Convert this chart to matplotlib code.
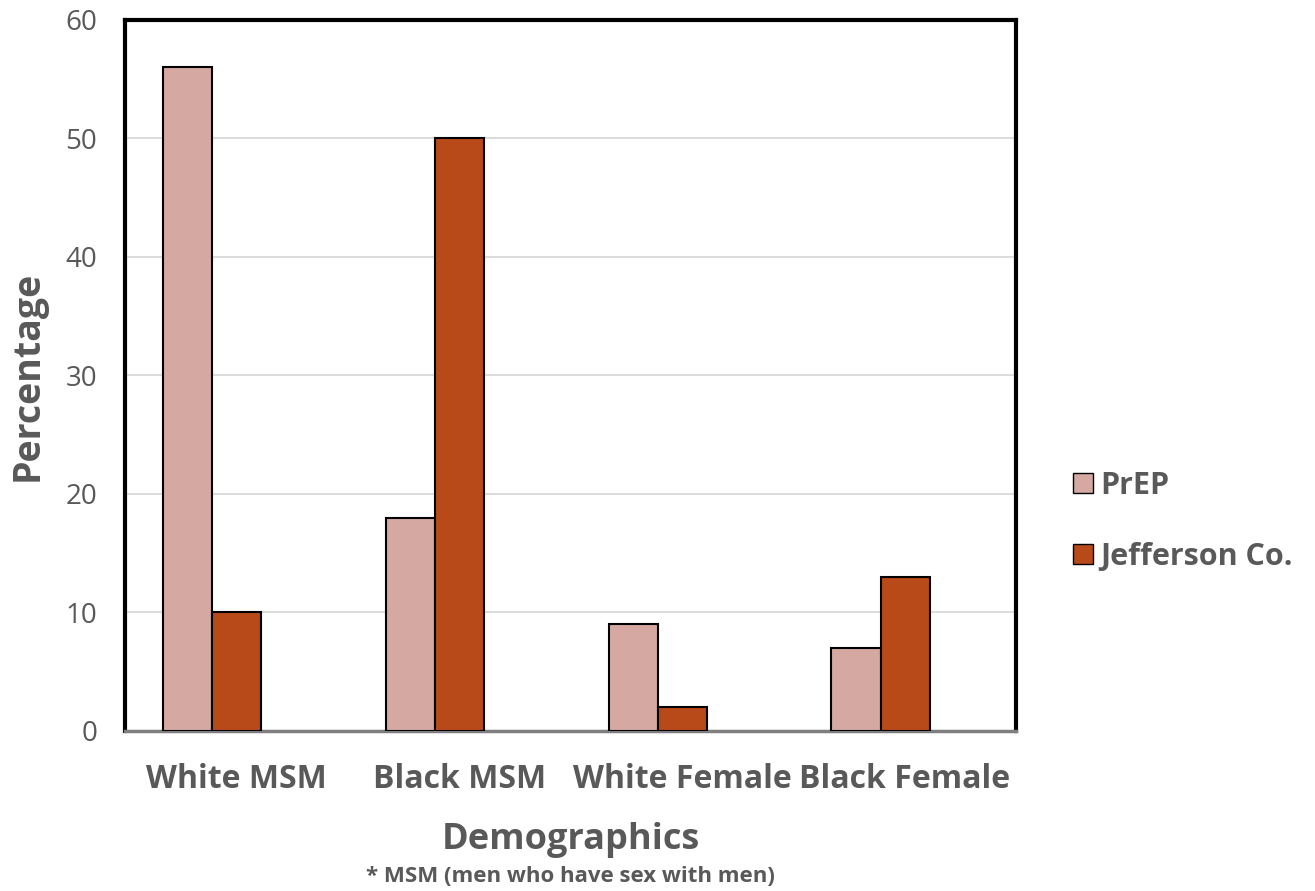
import numpy as np
import matplotlib.pyplot as plt
from matplotlib.patches import Patch

plt.rcParams['font.family'] = ['Open Sans', 'DejaVu Sans']

# datos
categorias = ['White MSM', 'Black MSM', 'White Female', 'Black Female']
prep = [56, 18, 9, 7]
jefferson = [10, 50, 2, 13]
ticks_y = [0, 10, 20, 30, 40, 50, 60]

gris = '#595959'
c_prep = '#d5a8a2'
c_jeff = '#b84a1a'

fig = plt.figure(figsize=(13.15, 8.91), dpi=100)
ax = fig.add_axes([0.095, 0.1796, 0.678, 0.798])

x = np.arange(len(categorias))
ancho = 0.22
ax.bar(x - ancho, prep, ancho, color=c_prep, edgecolor='black', linewidth=1.5, zorder=3)
ax.bar(x, jefferson, ancho, color=c_jeff, edgecolor='black', linewidth=1.5, zorder=3)

ax.set_xlim(-0.5, 3.5)
ax.set_ylim(0, 60)
ax.set_yticks(ticks_y)
ax.set_yticklabels([str(t) for t in ticks_y], fontsize=20, color=gris)
ax.set_xticks(x)
ax.set_xticklabels(categorias, fontsize=23, fontweight='bold', color=gris)
ax.tick_params(axis='both', length=0)
ax.tick_params(axis='y', pad=20)
ax.tick_params(axis='x', pad=23)
ax.yaxis.grid(True, color='#d9d9d9', linewidth=1.3, zorder=0)

for lado in ['left', 'top', 'right']:
    ax.spines[lado].set_linewidth(3)
    ax.spines[lado].set_color('black')
ax.spines['bottom'].set_linewidth(2.5)
ax.spines['bottom'].set_color('#7f7f7f')

ax.set_ylabel('Percentage', fontsize=27, fontweight='bold', color=gris)
ax.yaxis.set_label_coords(-0.088, 0.5)
ax.set_xlabel('Demographics', fontsize=26, fontweight='bold', color=gris, labelpad=19)

fig.text(0.434, 0.01, '* MSM (men who have sex with men)', fontsize=16,
         fontweight='bold', color=gris, ha='center')

leyenda = [Patch(facecolor=c_prep, edgecolor='black', label='PrEP'),
           Patch(facecolor=c_jeff, edgecolor='black', label='Jefferson Co.')]
leg = fig.legend(handles=leyenda, loc='center left', bbox_to_anchor=(0.795, 0.415),
                 frameon=False, handlelength=0.65, handleheight=0.65, handletextpad=0.25,
                 labelspacing=1.35, prop={'size': 22, 'weight': 'bold'})
for t in leg.get_texts():
    t.set_color(gris)

fig.savefig('out.png', dpi=100)
